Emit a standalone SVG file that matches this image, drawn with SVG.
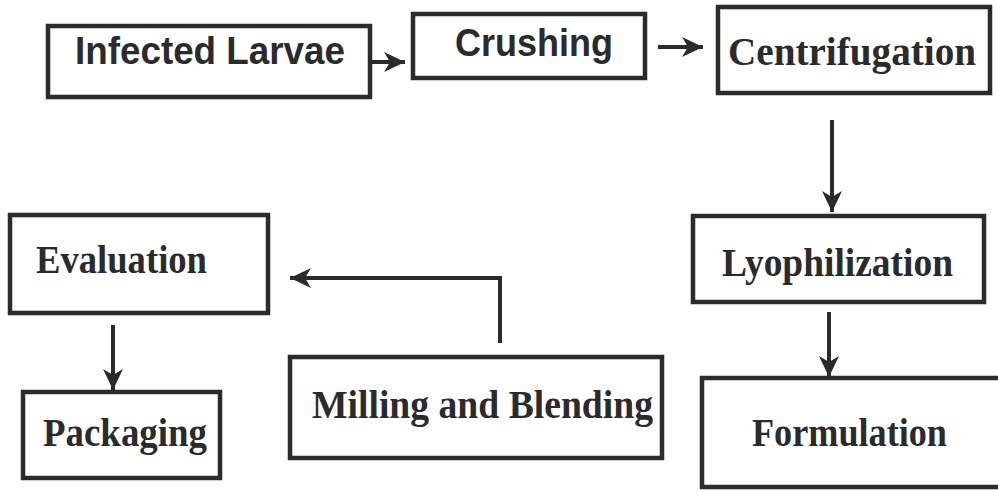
<svg xmlns="http://www.w3.org/2000/svg" width="998" height="493" viewBox="0 0 998 493">
<style>
.box{fill:#fff;stroke:#2b2b2b;stroke-width:4.5}
.sans{font-family:"Liberation Sans",Arial,sans-serif;font-weight:bold;font-size:38px;fill:#2b2b2b}
.serif{font-family:"Liberation Serif","Times New Roman",serif;font-weight:bold;font-size:41px;fill:#2b2b2b}
.conn{fill:none;stroke:#2b2b2b;stroke-width:4}
</style>
<defs>
<marker id="ah" markerUnits="userSpaceOnUse" markerWidth="22" markerHeight="22" viewBox="0 0 22 22" refX="21" refY="11" orient="auto">
<path d="M0,1 L21,11 L0,21 L6,11 Z" fill="#2b2b2b"/>
</marker>
</defs>
<rect width="998" height="493" fill="#fff"/>
<g id="connectors">
<line class="conn" x1="363" y1="62" x2="405" y2="62" marker-end="url(#ah)"/>
<line class="conn" x1="658" y1="47" x2="703" y2="47" marker-end="url(#ah)"/>
<line class="conn" x1="832" y1="120" x2="832" y2="212" marker-end="url(#ah)"/>
<line class="conn" x1="829" y1="312" x2="829" y2="377" marker-end="url(#ah)"/>
<line class="conn" x1="113" y1="325" x2="113" y2="390" marker-end="url(#ah)"/>
<polyline class="conn" points="500,343 500,278 290,278" marker-end="url(#ah)"/>
</g>
<g id="infected-larvae">
<rect class="box" x="48" y="26" width="322" height="71"/>
<text class="sans" x="75" y="64" textLength="270" lengthAdjust="spacingAndGlyphs">Infected Larvae</text>
</g>
<g id="crushing">
<rect class="box" x="413" y="14" width="232" height="64"/>
<text class="sans" x="455" y="56" textLength="158" lengthAdjust="spacingAndGlyphs">Crushing</text>
</g>
<g id="centrifugation">
<rect class="box" x="718" y="7" width="272" height="86"/>
<text class="serif" x="728" y="65" textLength="248" lengthAdjust="spacingAndGlyphs">Centrifugation</text>
</g>
<g id="lyophilization">
<rect class="box" x="693" y="216" width="291" height="86"/>
<text class="serif" x="722" y="276" textLength="231" lengthAdjust="spacingAndGlyphs">Lyophilization</text>
</g>
<g id="formulation">
<rect class="box" x="702" y="378" width="300" height="109"/>
<text class="serif" x="752" y="446" textLength="195" lengthAdjust="spacingAndGlyphs">Formulation</text>
</g>
<g id="evaluation">
<rect class="box" x="10" y="215" width="258" height="98"/>
<text class="serif" x="36" y="273" textLength="171" lengthAdjust="spacingAndGlyphs">Evaluation</text>
</g>
<g id="packaging">
<rect class="box" x="23" y="392" width="197" height="86"/>
<text class="serif" x="43" y="446" textLength="164" lengthAdjust="spacingAndGlyphs">Packaging</text>
</g>
<g id="milling-blending">
<rect class="box" x="290" y="357" width="372" height="101"/>
<text class="serif" x="312" y="418" textLength="341" lengthAdjust="spacingAndGlyphs">Milling and Blending</text>
</g>
</svg>
